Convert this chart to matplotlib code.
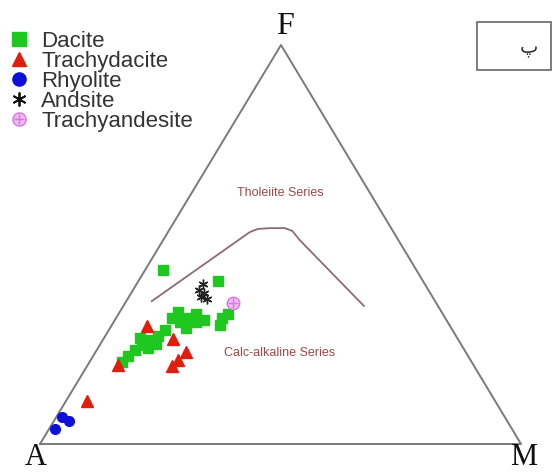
import matplotlib
matplotlib.use("Agg")
import matplotlib.pyplot as plt
from matplotlib.lines import Line2D
from matplotlib.legend_handler import HandlerTuple
from matplotlib.patches import Rectangle
import numpy as np

# ---- data: ternary compositions (A, F, M) in percent ----
dacite_A = [52.7, 42.6, 56.8, 55.6, 53.5, 52.3, 50.4, 55.1, 46.4, 44.6, 47.7, 59.7, 61.9,
            64.1, 66.4, 68.5, 70.7, 72.6, 65.5, 63.3, 54.8, 51.3, 65.9]
dacite_F = [43.6, 40.9, 31.6, 30.6, 31.6, 30.6, 31.1, 29.1, 31.6, 32.6, 29.8, 28.6, 27.1,
            26.1, 24.8, 23.6, 22.1, 20.6, 24.1, 25.1, 33.1, 32.6, 26.6]
dacite_M = [3.7, 16.5, 11.6, 13.8, 14.9, 17.1, 18.5, 15.8, 22.0, 22.8, 22.5, 11.7, 11.0,
            9.8, 8.8, 7.9, 7.2, 6.8, 10.4, 11.6, 12.1, 16.1, 7.5]

trachydacite_A = [63.0, 59.2, 58.1, 60.8, 62.8, 73.9, 84.8]
trachydacite_F = [29.6, 26.3, 23.1, 21.1, 19.5, 19.8, 10.8]
trachydacite_M = [7.4, 14.5, 18.8, 18.1, 17.7, 6.3, 4.4]

rhyolite_A = [92.0, 91.1, 95.0]
rhyolite_F = [6.8, 5.8, 3.8]
rhyolite_M = [1.2, 3.1, 1.2]

andesite_A = [46.1, 47.7, 47.1, 47.2, 48.2]
andesite_F = [40.1, 38.6, 37.8, 36.3, 36.8]
andesite_M = [13.8, 13.7, 15.1, 16.5, 15.0]

trachyandesite_A = [42.3]
trachyandesite_F = [35.3]
trachyandesite_M = [22.4]

# Tholeiite / calc-alkaline boundary (F, M)
boundary_F = [35.8, 53.1, 53.9, 54.1, 54.1, 53.4, 51.1, 34.6]
boundary_M = [5.3, 17.0, 18.3, 20.7, 23.8, 25.7, 28.4, 50.0]

series_labels = ["Dacite", "Trachydacite", "Rhyolite", "Andsite", "Trachyandesite"]

# ---- layout ----
W, H = 554, 472
PA = np.array([40.0, 444.0])
PM = np.array([521.0, 444.0])
PF = np.array([281.0, 45.0])


def tern(F, M):
    F = np.asarray(F, float) / 100.0
    M = np.asarray(M, float) / 100.0
    A = 1.0 - F - M
    x = A * PA[0] + F * PF[0] + M * PM[0]
    y = A * PA[1] + F * PF[1] + M * PM[1]
    return x, y


fig = plt.figure(figsize=(W / 100, H / 100), dpi=100)
ax = fig.add_axes([0, 0, 1, 1])
ax.set_xlim(0, W)
ax.set_ylim(H, 0)
ax.axis("off")

# triangle
tri = np.array([PA, PM, PF, PA])
ax.plot(tri[:, 0], tri[:, 1], color="#7a7a7a", lw=1.4, zorder=1)

# boundary curve
bx, by = tern(boundary_F, boundary_M)
ax.plot(bx, by, color="#8c6b78", lw=1.3, zorder=1)

green = "#1ec81e"
red = "#e01e0e"
blue = "#0c10d8"
pink_face = "#f2b8f4"
pink_edge = "#d27ae0"

x, y = tern(dacite_F, dacite_M)
ax.plot(x, y, "s", color=green, ms=7, mec=green, ls="none", zorder=3)
x, y = tern(trachydacite_F, trachydacite_M)
ax.plot(x, y, "^", color=red, ms=8, mec=red, ls="none", zorder=4)
x, y = tern(rhyolite_F, rhyolite_M)
ax.plot(x, y, "o", color=blue, ms=7, mec=blue, ls="none", zorder=4)
x, y = tern(andesite_F, andesite_M)
ax.plot(x, y, marker=(6, 2, 0), color="#222222", ms=7, mew=1.0, ls="none", zorder=4)
x, y = tern(trachyandesite_F, trachyandesite_M)
ax.plot(x, y, "o", mfc=pink_face, mec=pink_edge, ms=9, mew=1, ls="none", zorder=4)
ax.plot(x, y, "+", color=pink_edge, ms=6.5, mew=1, ls="none", zorder=5)

# series labels
ax.text(280, 193, "Tholeiite Series", fontsize=9, color="#9a4a4a",
        ha="center", va="center", family="Liberation Sans")
ax.text(280, 353, "Calc-alkaline Series", fontsize=9, color="#9a4a4a",
        ha="center", va="center", family="Liberation Sans")

# corner labels
ax.text(285, 27, "F", fontsize=23, family="Liberation Serif", ha="center", va="center", color="#111111")
ax.text(36, 472, "A", fontsize=22, family="Liberation Serif", ha="center", va="bottom", color="#111111")
ax.text(524, 472, "M", fontsize=22, family="Liberation Serif", ha="center", va="bottom", color="#111111")

# box top-right
ax.add_patch(Rectangle((477, 22), 74, 48, fill=False, ec="#666666", lw=1.2, zorder=2))
ax.text(529, 48, "\u067e", fontsize=14, family="DejaVu Sans", ha="center", va="center", color="#333333")

# legend
h1 = Line2D([], [], marker="s", color=green, ms=9.5, ls="none")
h2 = Line2D([], [], marker="^", color=red, ms=10, ls="none")
h3 = Line2D([], [], marker="o", color=blue, ms=9.5, ls="none")
h4 = Line2D([], [], marker=(6, 2, 0), color="#111111", ms=10, mew=1.3, ls="none")
h5a = Line2D([], [], marker="o", mfc=pink_face, mec=pink_edge, ms=9.5, ls="none")
h5b = Line2D([], [], marker="+", color=pink_edge, ms=7, mew=1, ls="none")
leg = ax.legend([h1, h2, h3, h4, (h5a, h5b)], series_labels,
                handler_map={tuple: HandlerTuple(ndivide=1, pad=0)},
                loc="upper left", bbox_to_anchor=(0.0144, 0.935), frameon=False,
                prop={"family": "Liberation Sans", "size": 16},
                handlelength=1.0, handletextpad=0.49, labelspacing=-0.04,
                borderaxespad=0.0, borderpad=0.0)
for t in leg.get_texts():
    t.set_color("#333333")

fig.savefig("out.png", dpi=100)
